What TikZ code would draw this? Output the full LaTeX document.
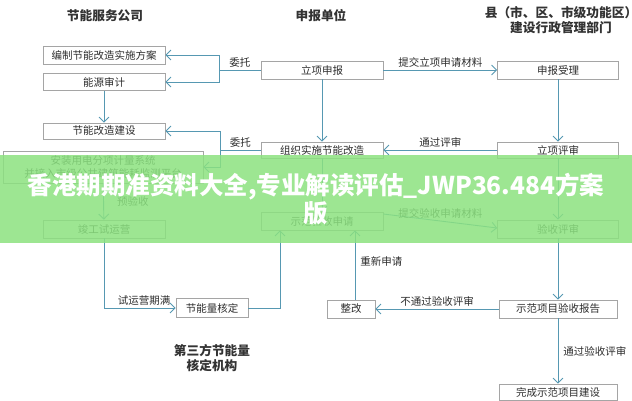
\documentclass[tikz,border=0pt]{standalone}
\usepackage{fontspec}
\setmainfont{Noto Sans CJK SC}
\usetikzlibrary{arrows.meta}
\definecolor{lnblue}{RGB}{86,152,178}
\definecolor{boxgray}{RGB}{165,165,165}
\definecolor{txtgray}{RGB}{45,45,45}
\definecolor{bandgreen}{RGB}{140,226,128}
\tikzset{
  flowbox/.style={draw=boxgray, fill=white, line width=0.6pt, inner sep=0pt,
    font=\fontsize{10.5}{13}\selectfont, text=txtgray, align=center},
  lbl/.style={font=\fontsize{10.5}{13}\selectfont, text=txtgray, inner sep=1pt},
  head/.style={font=\fontsize{12.7}{15}\selectfont\bfseries, text=black!80, align=center, inner sep=0pt},
  conn/.style={draw=lnblue, line width=0.9pt},
  arr/.style={conn, -{Straight Barb[length=5pt,width=10pt]}}
}
\begin{document}
\begin{tikzpicture}[x=1pt, y=-1pt]
        \useasboundingbox[fill=white] (0,0) rectangle (632,400);
        \node[head] at(105, 16) (h1) {节能服务公司};
        \node[head] at(321, 16) (h2) {申报单位};
        \node[head] at(561, 20) (h3) {县（市、区、市级功能区）\\建设行政管理部门};
        \node[head] at(212, 358) (h4) {第三方节能量\\核定机构};

        \node[flowbox, minimum width=122pt, minimum height=18pt] at(104, 55) (bzfa) {编制节能改造实施方案};
        \node[flowbox, minimum width=122pt, minimum height=17pt] at(104, 82) (nysj) {能源审计};
        \node[flowbox, minimum width=122pt, minimum height=16pt] at(104, 131) (jngz) {节能改造建设};
        \node[flowbox, minimum width=200pt, minimum height=32pt] at(103, 167) (azjl) {安装用电分项计量系统\\并接入市级公共建筑能耗监测平台};
        \node[flowbox, minimum width=122pt, minimum height=18pt] at(104, 229) (jgsy) {竣工试运营};
        \node[flowbox, minimum width=72pt, minimum height=19pt] at(212, 308) (jnhd) {节能量核定};

        \node[flowbox, minimum width=122pt, minimum height=18pt] at(322, 70) (lxsb) {立项申报};
        \node[flowbox, minimum width=122pt, minimum height=16pt] at(322, 150) (zzss) {组织实施节能改造};
        \node[flowbox, minimum width=122pt, minimum height=18pt] at(322, 221) (sfsq) {示范验收申请};
        \node[flowbox, minimum width=48pt, minimum height=18pt] at(351, 309) (zg) {整改};

        \node[flowbox, minimum width=121pt, minimum height=18pt] at(558, 70) (sbsl) {申报受理};
        \node[flowbox, minimum width=121pt, minimum height=16pt] at(558, 150) (lxps) {立项评审};
        \node[flowbox, minimum width=121pt, minimum height=18pt] at(558, 229) (ysps) {验收评审};
        \node[flowbox, minimum width=118pt, minimum height=18pt] at(558, 309) (ysbg) {示范项目验收报告};
        \node[flowbox, minimum width=118pt, minimum height=16pt] at(558, 392) (wcjs) {完成示范项目建设};

        \coordinate (wt1) at (219, 70);
        \coordinate (wt2) at (220, 150);
        \draw[conn] (lxsb) -- (wt1) node[lbl, pos=0.5, above=1pt] {委托};
        \draw[arr] (wt1) |- (bzfa);
        \draw[arr] (wt1) |- (nysj);
        \draw[conn] (zzss) -- (wt2) node[lbl, pos=0.5, above=1pt] {委托};
        \draw[arr] (wt2) |- (jngz);
        \draw[arr] (wt2) |- (azjl);

        \draw[arr] (nysj) -- (jngz);
        \draw[arr] (azjl) -- (jgsy) node[lbl, midway, right=12pt] {预验收};
        \draw[arr] (jgsy) |- (jnhd) node[lbl, pos=0.78, above=1pt] {试运营期满};
        \draw[arr] (jnhd) -| ([xshift=-42pt]sfsq.south);

        \draw[arr] (lxsb) -- (zzss);
        \draw[arr] (zzss) -- (sfsq);
        \draw[arr] ([xshift=4pt]zg.north) -- ([xshift=33pt]sfsq.south) node[lbl, pos=0.55, right=4pt] {重新申请};

        \draw[arr] (lxsb) -- (sbsl) node[lbl, midway, above=1pt] {提交立项申请材料};
        \draw[arr] (sbsl) -- (lxps);
        \draw[arr] (lxps) -- (zzss) node[lbl, midway, above=1pt] {通过评审};
        \draw[arr] (lxps) -- (ysps);
        \draw[arr] ([yshift=7pt]sfsq.east) -- (ysps.west |- {0,228}) node[lbl, midway, above=1pt] {提交验收申请材料};
        \draw[arr] (ysps) -- (ysbg);
        \draw[arr] (ysbg) -- (zg) node[lbl, midway, above=1pt] {不通过验收评审};
        \draw[arr] (ysbg) -- (wcjs) node[lbl, midway, right=4pt] {通过验收评审};

        \fill[bandgreen, fill opacity=0.85] (0,155) rectangle (632,243);
        \node[font=\fontsize{24.5}{28}\selectfont\bfseries, text=white, align=center] at(316, 199) (band) {香港期期准资料大全,专业解读评估\_JWP36.484方案\\版};
    \end{tikzpicture}
\end{document}
